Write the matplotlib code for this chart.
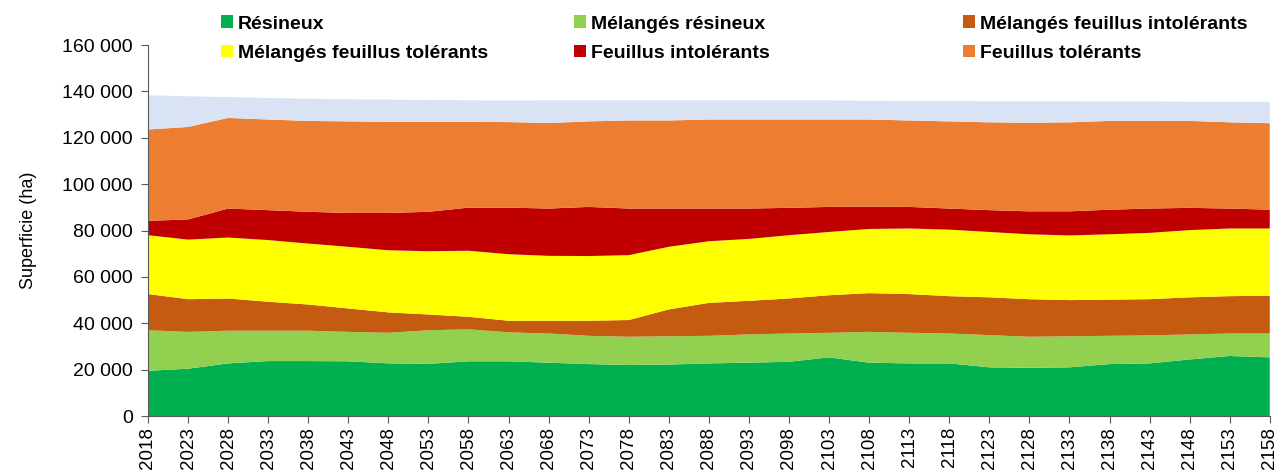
import matplotlib
matplotlib.use("Agg")
import matplotlib.pyplot as plt
from matplotlib.patches import Patch
from matplotlib.ticker import FuncFormatter

plt.rcParams["font.family"] = ["Liberation Sans", "DejaVu Sans"]

# ==============================
# DATA (superficie en ha, par strate)
# ==============================
years = [2018, 2023, 2028, 2033, 2038, 2043, 2048, 2053, 2058, 2063,
         2068, 2073, 2078, 2083, 2088, 2093, 2098, 2103, 2108, 2113,
         2118, 2123, 2128, 2133, 2138, 2143, 2148, 2153, 2158]

resineux = [19500, 20400, 22700, 23700, 23700, 23600, 22700, 22500, 23600, 23600,
            23000, 22400, 22000, 22200, 22700, 23000, 23400, 25300, 23000, 22700,
            22700, 21000, 20800, 21000, 22400, 22700, 24400, 25900, 25300]
melanges_resineux = [17500, 15900, 14100, 13100, 13100, 12700, 13200, 14500, 13800, 12500,
                     12600, 12200, 12200, 12200, 11900, 12200, 12200, 10600, 13300, 13200,
                     12900, 13900, 13400, 13400, 12200, 12100, 10800, 9700, 10300]
melanges_feuillus_intol = [15600, 14100, 13900, 12500, 11300, 10100, 8800, 6800, 5400, 5000,
                           5500, 6500, 7200, 11600, 14200, 14500, 15100, 16200, 16700, 16700,
                           16100, 16300, 16200, 15600, 15600, 15600, 16000, 16100, 16300]
melanges_feuillus_tol = [25400, 25700, 26300, 26600, 26300, 26600, 26800, 27300, 28500, 28700,
                         28000, 27900, 28000, 27000, 26600, 26700, 27300, 27300, 27700, 28300,
                         28700, 28200, 28000, 27900, 28200, 28600, 29000, 29200, 29000]
feuillus_intol = [6200, 8700, 12500, 12900, 13700, 14600, 16100, 17000, 18600, 20100,
                  20400, 21200, 20100, 16500, 14100, 13100, 11800, 10800, 9600, 9300,
                  9100, 9400, 9900, 10400, 10600, 10500, 9600, 8600, 8100]
feuillus_tol = [39400, 39900, 39100, 39100, 39200, 39500, 39300, 38800, 37000, 36900,
                36900, 36900, 38000, 38000, 38400, 38400, 38100, 37700, 37600, 37300,
                37600, 37900, 38200, 38400, 38300, 37800, 37500, 37200, 37300]
autres = [14800, 13200, 9000, 9300, 9600, 9500, 9600, 9400, 9300, 9300,
          9800, 9100, 8700, 8700, 8300, 8300, 8300, 8300, 8100, 8400,
          8800, 9100, 9300, 9100, 8400, 8400, 8300, 8900, 9200]

labels = ["Résineux", "Mélangés résineux", "Mélangés feuillus intolérants",
          "Mélangés feuillus tolérants", "Feuillus intolérants", "Feuillus tolérants", ""]
colors = ["#00B050", "#92D050", "#C55A11", "#FFFF00", "#C00000", "#ED7D31", "#DAE3F3"]

# ==============================
# FIGURE
# ==============================
fig = plt.figure(figsize=(12.8, 4.75), dpi=100)
ax = fig.add_axes([0.1156, 0.1242, 0.8764, 0.7808])

ax.stackplot(years, resineux, melanges_resineux, melanges_feuillus_intol,
             melanges_feuillus_tol, feuillus_intol, feuillus_tol, autres,
             colors=colors, linewidth=0)

ax.set_xlim(years[0], years[-1])
ax.set_ylim(0, 160000)
ax.set_yticks(range(0, 160001, 20000))
ax.yaxis.set_major_formatter(FuncFormatter(lambda v, p: f"{int(v):,}".replace(",", " ")))
ax.set_xticks(years)
ax.set_xticklabels([str(y) for y in years], rotation=90, fontsize=13.5)
ax.tick_params(axis="y", labelsize=14, length=5, color="#595959", pad=6)
ax.tick_params(axis="x", length=5, color="#595959", pad=3)
ax.set_ylabel("Superficie (ha)", fontsize=13, labelpad=18)

for side in ["top", "right"]:
    ax.spines[side].set_visible(False)
for side in ["left", "bottom"]:
    ax.spines[side].set_color("#595959")

# legend: 3 columns, filled row by row
col_x = [0.1668, 0.4426, 0.7465]
for i, x in enumerate(col_x):
    handles = [Patch(facecolor=colors[i], label=labels[i]),
               Patch(facecolor=colors[i + 3], label=labels[i + 3])]
    fig.legend(handles=handles, loc="upper left", bbox_to_anchor=(x, 0.9838),
               frameon=False, prop={"size": 14, "weight": "bold"},
               handlelength=0.6, handleheight=0.6, handletextpad=0.25,
               labelspacing=0.62, borderaxespad=0)

fig.savefig("out.png", dpi=100)
